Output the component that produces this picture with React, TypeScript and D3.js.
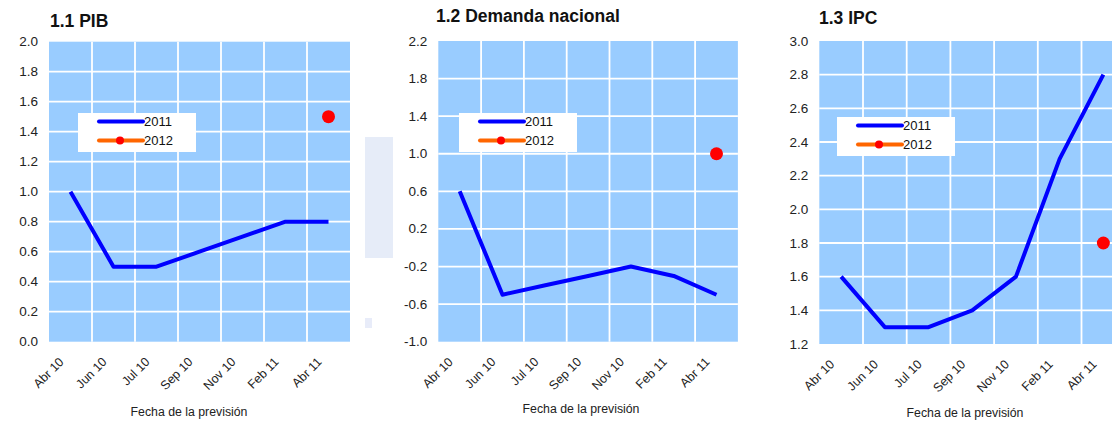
import * as d3 from 'd3';

const dates = ['Abr 10', 'Jun 10', 'Jul 10', 'Sep 10', 'Nov 10', 'Feb 11', 'Abr 11'];

const pib2011 = [1.0, 0.5, 0.5, 0.6, 0.7, 0.8, 0.8];
const pib2012 = [null, null, null, null, null, null, 1.5];
const pibTicks = [0.0, 0.2, 0.4, 0.6, 0.8, 1.0, 1.2, 1.4, 1.6, 1.8, 2.0];

const demanda2011 = [0.6, -0.5, -0.4, -0.3, -0.2, -0.3, -0.5];
const demanda2012 = [null, null, null, null, null, null, 1.0];
const demandaTicks = [-1.0, -0.6, -0.2, 0.2, 0.6, 1.0, 1.4, 1.8, 2.2];

const ipc2011 = [1.6, 1.3, 1.3, 1.4, 1.6, 2.3, 2.8];
const ipc2012 = [null, null, null, null, null, null, 1.8];
const ipcTicks = [1.2, 1.4, 1.6, 1.8, 2.0, 2.2, 2.4, 2.6, 2.8, 3.0];

const FONT = 'Liberation Sans, Arial, sans-serif';

interface PanelProps {
  title: string;
  titleX: number;
  titleY: number;
  s2011: number[];
  s2012: (number | null)[];
  ticks: number[];
  left: number;
  top: number;
  bottom: number;
  band: number;
  legendX: number;
  legendY: number;
  axisTitleX: number;
  axisTitleY: number;
}

const Panel = (p: PanelProps) => {
  const right = p.left + p.band * dates.length;
  const x = d3.scaleBand<string>().domain(dates).range([p.left, right]);
  const y = d3
    .scaleLinear()
    .domain([p.ticks[0], p.ticks[p.ticks.length - 1]])
    .range([p.bottom, p.top]);
  const cx = (d: string) => (x(d) ?? 0) + x.bandwidth() / 2;

  const line = d3
    .line<number>()
    .x((_, i) => cx(dates[i]))
    .y((v) => y(v));

  return (
    <g>
      <text x={p.titleX} y={p.titleY} fontSize={17.5} fontWeight="bold" fill="#111">
        {p.title}
      </text>
      <rect x={p.left} y={p.top} width={right - p.left} height={p.bottom - p.top} fill="#99CCFF" />
      {dates.slice(1).map((d) => (
        <line key={d} x1={x(d)} x2={x(d)} y1={p.top} y2={p.bottom} stroke="#fff" strokeWidth={1.8} />
      ))}
      {p.ticks.slice(1, -1).map((t) => (
        <line key={t} x1={p.left} x2={right} y1={y(t)} y2={y(t)} stroke="#fff" strokeWidth={1.8} />
      ))}
      {p.ticks.map((t) => (
        <text key={t} x={p.left - 11} y={y(t) + 4.5} textAnchor="end" fontSize={13.5} fill="#222">
          {t.toFixed(1)}
        </text>
      ))}
      {dates.map((d) => (
        <text
          key={d}
          transform={`translate(${cx(d) - 6},${p.bottom + 21}) rotate(-45)`}
          textAnchor="end"
          fontSize={12.5}
          fill="#222"
        >
          {d}
        </text>
      ))}
      <text x={p.axisTitleX} y={p.axisTitleY} textAnchor="middle" fontSize={12.3} fill="#222">
        Fecha de la previsión
      </text>
      <path d={line(p.s2011) ?? ''} fill="none" stroke="#0000FF" strokeWidth={4} strokeLinejoin="round" />
      {p.s2012.map((v, i) =>
        v == null ? null : <circle key={i} cx={cx(dates[i])} cy={y(v)} r={6.5} fill="#FF0000" />
      )}
      <g transform={`translate(${p.legendX},${p.legendY})`}>
        <rect x={0} y={0} width={118} height={39} fill="#fff" />
        <line x1={21} x2={65} y1={8.5} y2={8.5} stroke="#0000FF" strokeWidth={4} strokeLinecap="round" />
        <text x={66} y={13} fontSize={13} fill="#111">2011</text>
        <line x1={21} x2={65} y1={27.5} y2={27.5} stroke="#FF6600" strokeWidth={4} strokeLinecap="round" />
        <circle cx={42} cy={27.5} r={4} fill="#FF0000" />
        <text x={66} y={32} fontSize={13} fill="#111">2012</text>
      </g>
    </g>
  );
};

export default function App() {
  return (
    <svg
      width={1112}
      height={421}
      style={{ position: 'fixed', left: 0, top: 0, background: '#fff', fontFamily: FONT }}
    >
      <rect x={365} y={137} width={28} height={121} fill="#E6ECF8" />
      <rect x={365} y={318} width={7} height={10} fill="#E8ECF9" />
      <Panel
        title="1.1 PIB"
        titleX={50}
        titleY={27}
        s2011={pib2011}
        s2012={pib2012}
        ticks={pibTicks}
        left={49}
        top={41.7}
        bottom={341.7}
        band={43}
        legendX={78}
        legendY={113}
        axisTitleX={189}
        axisTitleY={416}
      />
      <Panel
        title="1.2 Demanda nacional"
        titleX={436}
        titleY={22}
        s2011={demanda2011}
        s2012={demanda2012}
        ticks={demandaTicks}
        left={438.3}
        top={41}
        bottom={341.7}
        band={42.8}
        legendX={459}
        legendY={113}
        axisTitleX={581}
        axisTitleY={413}
      />
      <Panel
        title="1.3 IPC"
        titleX={819}
        titleY={24}
        s2011={ipc2011}
        s2012={ipc2012}
        ticks={ipcTicks}
        left={819.3}
        top={41}
        bottom={344}
        band={43.7}
        legendX={837}
        legendY={117}
        axisTitleX={965}
        axisTitleY={416.5}
      />
    </svg>
  );
}
